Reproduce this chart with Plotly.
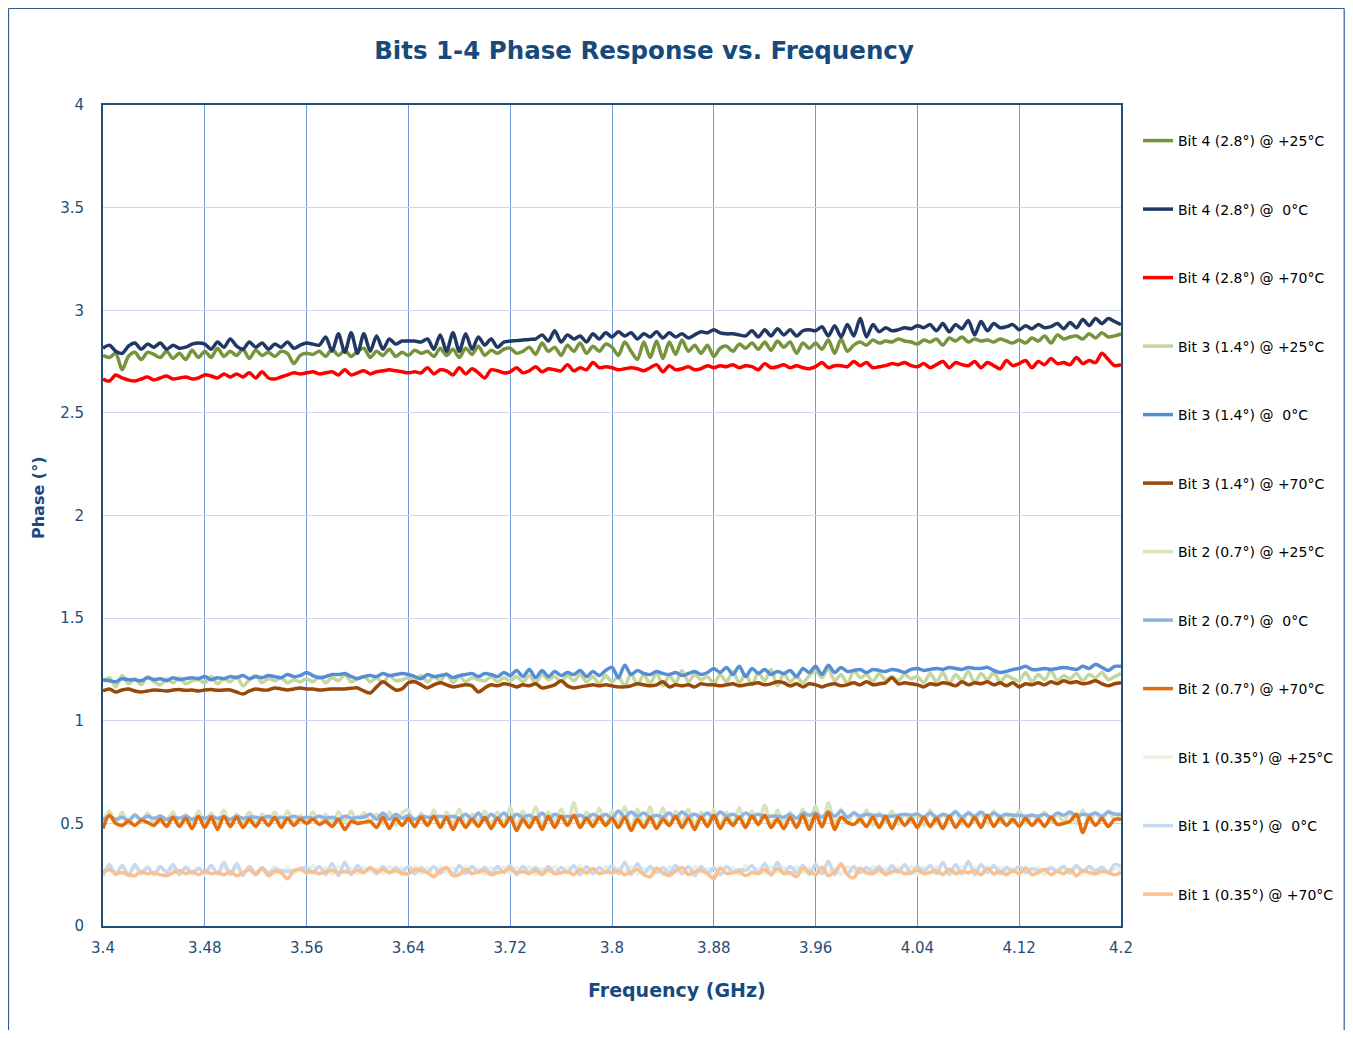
import numpy as np
import plotly.graph_objects as go

# ---------------- data (phase in degrees, 3.4 - 4.2 GHz sweep) ----------------
f_start, f_stop = 3.4, 4.2

bit4_25 = [
    2.78, 2.77, 2.79, 2.71, 2.775, 2.795, 2.76, 2.795, 2.785, 2.77, 2.80, 2.765, 2.79, 2.76, 2.805, 2.77,
    2.80, 2.77, 2.815, 2.775, 2.80, 2.78, 2.81, 2.765, 2.805, 2.78, 2.795, 2.775, 2.80, 2.79, 2.74, 2.78,
    2.79, 2.785, 2.80, 2.775, 2.81, 2.78, 2.805, 2.775, 2.80, 2.815, 2.77, 2.80, 2.78, 2.81, 2.775, 2.795,
    2.78, 2.805, 2.79, 2.80, 2.775, 2.815, 2.78, 2.81, 2.77, 2.815, 2.785, 2.825, 2.78, 2.805, 2.79, 2.81,
    2.815, 2.79, 2.80, 2.82, 2.785, 2.84, 2.80, 2.82, 2.78, 2.83, 2.80, 2.84, 2.79, 2.825, 2.80, 2.835,
    2.82, 2.78, 2.845, 2.80, 2.76, 2.845, 2.77, 2.85, 2.765, 2.845, 2.785, 2.855, 2.80, 2.83, 2.79, 2.83,
    2.775, 2.815, 2.825, 2.80, 2.835, 2.815, 2.84, 2.81, 2.845, 2.805, 2.85, 2.82, 2.845, 2.79, 2.84, 2.815,
    2.84, 2.81, 2.855, 2.79, 2.86, 2.80, 2.83, 2.845, 2.83, 2.855, 2.84, 2.85, 2.845, 2.86, 2.85, 2.845,
    2.835, 2.855, 2.845, 2.86, 2.83, 2.865, 2.85, 2.87, 2.845, 2.86, 2.85, 2.855, 2.845, 2.86, 2.85, 2.84,
    2.855, 2.84, 2.865, 2.85, 2.875, 2.84, 2.88, 2.86, 2.87, 2.875, 2.86, 2.885, 2.865, 2.89, 2.87, 2.875,
    2.885]

bit4_0 = [
    2.815, 2.83, 2.80, 2.79, 2.825, 2.84, 2.81, 2.835, 2.82, 2.84, 2.81, 2.83, 2.815, 2.82, 2.835, 2.84,
    2.835, 2.81, 2.845, 2.82, 2.86, 2.825, 2.81, 2.845, 2.82, 2.84, 2.81, 2.835, 2.82, 2.845, 2.815, 2.83,
    2.84, 2.835, 2.83, 2.87, 2.80, 2.885, 2.795, 2.89, 2.79, 2.885, 2.80, 2.875, 2.81, 2.86, 2.835, 2.85,
    2.85, 2.85, 2.845, 2.86, 2.81, 2.88, 2.80, 2.89, 2.80, 2.885, 2.81, 2.87, 2.83, 2.86, 2.82, 2.845,
    2.85, 2.852, 2.855, 2.858, 2.86, 2.88, 2.85, 2.90, 2.845, 2.88, 2.86, 2.875, 2.845, 2.885, 2.86, 2.89,
    2.87, 2.895, 2.875, 2.89, 2.86, 2.885, 2.87, 2.895, 2.865, 2.89, 2.87, 2.885, 2.865, 2.88, 2.895, 2.89,
    2.905, 2.89, 2.885, 2.885, 2.88, 2.875, 2.90, 2.87, 2.905, 2.875, 2.91, 2.88, 2.905, 2.875, 2.90, 2.905,
    2.90, 2.92, 2.875, 2.925, 2.87, 2.93, 2.875, 2.96, 2.87, 2.93, 2.895, 2.915, 2.90, 2.905, 2.915, 2.91,
    2.925, 2.915, 2.93, 2.90, 2.935, 2.895, 2.93, 2.91, 2.95, 2.88, 2.945, 2.90, 2.935, 2.915, 2.92, 2.93,
    2.905, 2.925, 2.91, 2.93, 2.915, 2.92, 2.935, 2.91, 2.94, 2.915, 2.955, 2.925, 2.96, 2.935, 2.96, 2.945,
    2.93]

bit4_70 = [
    2.665, 2.655, 2.685, 2.67, 2.66, 2.655, 2.665, 2.675, 2.66, 2.67, 2.68, 2.665, 2.67, 2.675, 2.665, 2.67,
    2.685, 2.68, 2.67, 2.69, 2.675, 2.69, 2.675, 2.695, 2.67, 2.70, 2.67, 2.665, 2.675, 2.685, 2.695, 2.69,
    2.695, 2.70, 2.69, 2.695, 2.70, 2.685, 2.71, 2.685, 2.695, 2.705, 2.69, 2.70, 2.705, 2.71, 2.705, 2.70,
    2.695, 2.70, 2.695, 2.72, 2.69, 2.71, 2.705, 2.685, 2.72, 2.69, 2.715, 2.695, 2.67, 2.71, 2.705, 2.695,
    2.70, 2.72, 2.695, 2.705, 2.725, 2.70, 2.715, 2.71, 2.705, 2.735, 2.705, 2.72, 2.71, 2.745, 2.72, 2.725,
    2.72, 2.71, 2.715, 2.72, 2.715, 2.705, 2.72, 2.735, 2.70, 2.73, 2.71, 2.715, 2.725, 2.71, 2.715, 2.73,
    2.72, 2.73, 2.725, 2.735, 2.72, 2.73, 2.725, 2.71, 2.74, 2.72, 2.725, 2.735, 2.72, 2.73, 2.72, 2.715,
    2.725, 2.745, 2.72, 2.73, 2.73, 2.725, 2.75, 2.73, 2.745, 2.72, 2.725, 2.73, 2.74, 2.735, 2.745, 2.73,
    2.725, 2.74, 2.72, 2.735, 2.75, 2.72, 2.745, 2.735, 2.73, 2.75, 2.72, 2.745, 2.73, 2.715, 2.755, 2.73,
    2.74, 2.755, 2.72, 2.75, 2.735, 2.765, 2.74, 2.745, 2.735, 2.77, 2.74, 2.755, 2.745, 2.79, 2.76, 2.73,
    2.735]

bit3_25 = [
    1.19, 1.21, 1.165, 1.22, 1.18, 1.205, 1.175, 1.215, 1.19, 1.175, 1.205, 1.185, 1.21, 1.18, 1.195, 1.20,
    1.185, 1.215, 1.18, 1.205, 1.19, 1.215, 1.17, 1.20, 1.22, 1.185, 1.205, 1.195, 1.21, 1.185, 1.20, 1.19,
    1.205, 1.19, 1.215, 1.185, 1.21, 1.195, 1.225, 1.19, 1.205, 1.215, 1.19, 1.21, 1.185, 1.22, 1.195, 1.20,
    1.21, 1.195, 1.22, 1.19, 1.215, 1.195, 1.23, 1.185, 1.215, 1.19, 1.21, 1.20, 1.195, 1.215, 1.19, 1.21,
    1.195, 1.215, 1.19, 1.22, 1.185, 1.225, 1.20, 1.215, 1.19, 1.22, 1.195, 1.225, 1.19, 1.215, 1.18, 1.22,
    1.19, 1.215, 1.17, 1.23, 1.175, 1.225, 1.18, 1.235, 1.17, 1.22, 1.185, 1.245, 1.19, 1.225, 1.20, 1.215,
    1.18, 1.225, 1.19, 1.24, 1.185, 1.225, 1.175, 1.235, 1.195, 1.25, 1.17, 1.23, 1.19, 1.215, 1.185, 1.22,
    1.24, 1.21, 1.255, 1.195, 1.225, 1.18, 1.245, 1.21, 1.225, 1.19, 1.23, 1.20, 1.215, 1.195, 1.225, 1.205,
    1.215, 1.185, 1.23, 1.19, 1.235, 1.18, 1.225, 1.195, 1.24, 1.185, 1.23, 1.20, 1.235, 1.19, 1.22, 1.205,
    1.195, 1.235, 1.19, 1.225, 1.20, 1.245, 1.195, 1.22, 1.205, 1.23, 1.195, 1.225, 1.21, 1.235, 1.20, 1.215,
    1.23]

bit3_0 = [
    1.20, 1.195, 1.19, 1.205, 1.20, 1.20, 1.195, 1.21, 1.20, 1.205, 1.195, 1.21, 1.20, 1.205, 1.21, 1.205,
    1.215, 1.20, 1.21, 1.205, 1.215, 1.21, 1.22, 1.205, 1.215, 1.21, 1.22, 1.215, 1.21, 1.225, 1.215, 1.22,
    1.235, 1.22, 1.21, 1.215, 1.225, 1.225, 1.23, 1.215, 1.205, 1.215, 1.22, 1.215, 1.23, 1.22, 1.225, 1.23,
    1.225, 1.215, 1.205, 1.225, 1.215, 1.22, 1.225, 1.21, 1.22, 1.225, 1.23, 1.215, 1.23, 1.225, 1.215, 1.235,
    1.22, 1.245, 1.215, 1.25, 1.21, 1.245, 1.215, 1.24, 1.22, 1.235, 1.225, 1.245, 1.215, 1.24, 1.22, 1.245,
    1.26, 1.21, 1.27, 1.225, 1.245, 1.23, 1.225, 1.24, 1.23, 1.225, 1.235, 1.22, 1.23, 1.24, 1.225, 1.235,
    1.255, 1.235, 1.26, 1.225, 1.265, 1.215, 1.255, 1.23, 1.25, 1.225, 1.24, 1.23, 1.245, 1.215, 1.255, 1.235,
    1.265, 1.225, 1.27, 1.235, 1.26, 1.24, 1.245, 1.25, 1.235, 1.25, 1.245, 1.24, 1.25, 1.245, 1.235, 1.25,
    1.255, 1.245, 1.25, 1.255, 1.25, 1.26, 1.255, 1.25, 1.26, 1.255, 1.255, 1.26, 1.245, 1.235, 1.24, 1.25,
    1.255, 1.265, 1.25, 1.25, 1.255, 1.25, 1.255, 1.26, 1.255, 1.25, 1.265, 1.255, 1.275, 1.26, 1.245, 1.265,
    1.265]

bit3_70 = [
    1.145, 1.155, 1.14, 1.15, 1.155, 1.145, 1.14, 1.145, 1.15, 1.148, 1.145, 1.15, 1.152, 1.148, 1.15, 1.145,
    1.15, 1.152, 1.148, 1.15, 1.15, 1.14, 1.13, 1.145, 1.155, 1.15, 1.15, 1.16, 1.155, 1.15, 1.155, 1.16,
    1.155, 1.155, 1.15, 1.152, 1.155, 1.155, 1.155, 1.158, 1.16, 1.145, 1.135, 1.165, 1.19, 1.17, 1.15, 1.155,
    1.185, 1.19, 1.175, 1.16, 1.175, 1.185, 1.175, 1.165, 1.17, 1.175, 1.17, 1.14, 1.16, 1.175, 1.17, 1.18,
    1.175, 1.165, 1.175, 1.17, 1.18, 1.16, 1.165, 1.175, 1.195, 1.17, 1.16, 1.165, 1.17, 1.175, 1.17, 1.175,
    1.17, 1.165, 1.165, 1.17, 1.18, 1.175, 1.17, 1.175, 1.19, 1.165, 1.175, 1.17, 1.175, 1.165, 1.18, 1.175,
    1.175, 1.17, 1.175, 1.18, 1.17, 1.175, 1.18, 1.185, 1.175, 1.18, 1.19, 1.185, 1.17, 1.18, 1.165, 1.18,
    1.175, 1.165, 1.175, 1.18, 1.17, 1.175, 1.185, 1.175, 1.19, 1.175, 1.18, 1.185, 1.21, 1.18, 1.185, 1.18,
    1.175, 1.165, 1.18, 1.175, 1.185, 1.18, 1.17, 1.19, 1.175, 1.185, 1.18, 1.19, 1.175, 1.185, 1.17, 1.185,
    1.165, 1.18, 1.175, 1.185, 1.175, 1.19, 1.18, 1.195, 1.185, 1.19, 1.18, 1.185, 1.195, 1.18, 1.17, 1.18,
    1.185]

bit2_25 = [
    0.51, 0.56, 0.50, 0.555, 0.495, 0.545, 0.51, 0.55, 0.50, 0.54, 0.515, 0.555, 0.49, 0.545, 0.505, 0.56,
    0.495, 0.55, 0.50, 0.565, 0.49, 0.545, 0.51, 0.555, 0.50, 0.545, 0.515, 0.555, 0.495, 0.56, 0.505, 0.54,
    0.51, 0.555, 0.495, 0.545, 0.50, 0.555, 0.51, 0.56, 0.495, 0.55, 0.505, 0.545, 0.50, 0.555, 0.49, 0.55,
    0.565, 0.48, 0.55, 0.495, 0.565, 0.485, 0.555, 0.50, 0.57, 0.49, 0.545, 0.51, 0.56, 0.49, 0.555, 0.50,
    0.575, 0.485, 0.56, 0.50, 0.58, 0.49, 0.555, 0.505, 0.57, 0.495, 0.60, 0.48, 0.555, 0.505, 0.575, 0.49,
    0.56, 0.50, 0.58, 0.47, 0.57, 0.49, 0.58, 0.475, 0.575, 0.49, 0.56, 0.50, 0.57, 0.49, 0.555, 0.50,
    0.565, 0.485, 0.555, 0.50, 0.575, 0.48, 0.56, 0.495, 0.59, 0.485, 0.565, 0.50, 0.555, 0.48, 0.57, 0.495,
    0.585, 0.48, 0.60, 0.495, 0.57, 0.50, 0.555, 0.505, 0.565, 0.49, 0.55, 0.51, 0.56, 0.495, 0.545, 0.51,
    0.55, 0.49, 0.565, 0.50, 0.545, 0.515, 0.56, 0.495, 0.555, 0.51, 0.55, 0.50, 0.56, 0.51, 0.545, 0.505,
    0.56, 0.50, 0.545, 0.515, 0.555, 0.505, 0.545, 0.51, 0.555, 0.50, 0.565, 0.51, 0.55, 0.515, 0.56, 0.52,
    0.545]

bit2_0 = [
    0.515, 0.535, 0.52, 0.53, 0.515, 0.54, 0.52, 0.535, 0.525, 0.535, 0.52, 0.53, 0.525, 0.535, 0.52, 0.53,
    0.525, 0.535, 0.525, 0.53, 0.52, 0.535, 0.525, 0.53, 0.53, 0.525, 0.535, 0.52, 0.53, 0.525, 0.535, 0.525,
    0.53, 0.525, 0.535, 0.525, 0.53, 0.52, 0.535, 0.525, 0.53, 0.53, 0.545, 0.52, 0.55, 0.52, 0.545, 0.525,
    0.54, 0.52, 0.535, 0.53, 0.53, 0.535, 0.53, 0.535, 0.525, 0.545, 0.52, 0.55, 0.515, 0.545, 0.525, 0.55,
    0.52, 0.545, 0.53, 0.54, 0.52, 0.55, 0.52, 0.545, 0.53, 0.535, 0.53, 0.54, 0.525, 0.545, 0.53, 0.545,
    0.525, 0.56, 0.53, 0.555, 0.535, 0.55, 0.53, 0.54, 0.53, 0.55, 0.525, 0.555, 0.535, 0.545, 0.53, 0.55,
    0.525, 0.555, 0.535, 0.545, 0.53, 0.55, 0.535, 0.545, 0.53, 0.535, 0.535, 0.53, 0.545, 0.525, 0.55, 0.54,
    0.55, 0.53, 0.555, 0.535, 0.56, 0.53, 0.55, 0.535, 0.545, 0.54, 0.54, 0.535, 0.535, 0.54, 0.545, 0.54,
    0.545, 0.53, 0.55, 0.53, 0.545, 0.535, 0.555, 0.53, 0.55, 0.535, 0.555, 0.53, 0.55, 0.535, 0.545, 0.54,
    0.54, 0.535, 0.54, 0.535, 0.545, 0.53, 0.55, 0.54, 0.555, 0.535, 0.545, 0.54, 0.55, 0.535, 0.555, 0.545,
    0.545]

bit2_70 = [
    0.475, 0.54, 0.50, 0.49, 0.51, 0.49, 0.515, 0.505, 0.49, 0.52, 0.485, 0.53, 0.485, 0.525, 0.475, 0.535,
    0.48, 0.53, 0.47, 0.535, 0.485, 0.53, 0.48, 0.52, 0.485, 0.525, 0.49, 0.53, 0.48, 0.525, 0.49, 0.52,
    0.50, 0.52, 0.495, 0.51, 0.485, 0.52, 0.47, 0.51, 0.50, 0.505, 0.51, 0.48, 0.53, 0.475, 0.525, 0.49,
    0.525, 0.485, 0.53, 0.49, 0.535, 0.48, 0.53, 0.47, 0.525, 0.48, 0.52, 0.485, 0.53, 0.475, 0.525, 0.485,
    0.53, 0.465, 0.52, 0.48, 0.53, 0.47, 0.535, 0.48, 0.535, 0.49, 0.54, 0.48, 0.525, 0.485, 0.53, 0.49,
    0.525, 0.48, 0.53, 0.465, 0.52, 0.48, 0.53, 0.475, 0.52, 0.49, 0.535, 0.48, 0.525, 0.47, 0.53, 0.485,
    0.54, 0.475, 0.525, 0.49, 0.53, 0.48, 0.535, 0.495, 0.54, 0.48, 0.52, 0.475, 0.53, 0.48, 0.54, 0.47,
    0.545, 0.485, 0.555, 0.47, 0.53, 0.505, 0.495, 0.52, 0.485, 0.53, 0.48, 0.535, 0.475, 0.53, 0.49, 0.525,
    0.48, 0.53, 0.485, 0.525, 0.475, 0.535, 0.48, 0.52, 0.485, 0.53, 0.48, 0.54, 0.485, 0.525, 0.49, 0.52,
    0.485, 0.525, 0.49, 0.52, 0.485, 0.53, 0.495, 0.50, 0.51, 0.545, 0.455, 0.53, 0.49, 0.525, 0.485, 0.52,
    0.52]

bit1_25 = [
    0.255, 0.29, 0.25, 0.295, 0.255, 0.285, 0.26, 0.29, 0.25, 0.285, 0.265, 0.28, 0.255, 0.29, 0.26, 0.285,
    0.25, 0.29, 0.255, 0.285, 0.26, 0.28, 0.255, 0.29, 0.26, 0.285, 0.25, 0.29, 0.265, 0.285, 0.255, 0.28,
    0.26, 0.295, 0.255, 0.285, 0.25, 0.29, 0.26, 0.28, 0.255, 0.285, 0.265, 0.28, 0.255, 0.29, 0.26, 0.285,
    0.25, 0.295, 0.255, 0.285, 0.245, 0.29, 0.26, 0.285, 0.255, 0.29, 0.26, 0.28, 0.25, 0.285, 0.26, 0.29,
    0.255, 0.285, 0.26, 0.29, 0.25, 0.28, 0.265, 0.29, 0.255, 0.285, 0.26, 0.295, 0.25, 0.28, 0.26, 0.29,
    0.255, 0.285, 0.26, 0.29, 0.255, 0.28, 0.265, 0.285, 0.25, 0.29, 0.26, 0.285, 0.255, 0.29, 0.26, 0.28,
    0.255, 0.29, 0.26, 0.285, 0.25, 0.295, 0.26, 0.28, 0.255, 0.29, 0.265, 0.285, 0.25, 0.29, 0.26, 0.285,
    0.255, 0.29, 0.26, 0.28, 0.25, 0.29, 0.265, 0.285, 0.255, 0.29, 0.26, 0.28, 0.255, 0.285, 0.26, 0.29,
    0.25, 0.285, 0.26, 0.29, 0.255, 0.28, 0.265, 0.29, 0.255, 0.285, 0.26, 0.29, 0.25, 0.285, 0.265, 0.28,
    0.255, 0.29, 0.26, 0.285, 0.25, 0.29, 0.265, 0.28, 0.255, 0.29, 0.26, 0.285, 0.255, 0.29, 0.26, 0.28,
    0.27]

bit1_0 = [
    0.245, 0.30, 0.25, 0.295, 0.245, 0.30, 0.255, 0.285, 0.25, 0.29, 0.26, 0.30, 0.25, 0.285, 0.255, 0.28,
    0.26, 0.295, 0.255, 0.31, 0.25, 0.305, 0.245, 0.29, 0.255, 0.285, 0.26, 0.275, 0.27, 0.265, 0.27, 0.28,
    0.285, 0.26, 0.29, 0.25, 0.305, 0.245, 0.31, 0.25, 0.295, 0.26, 0.285, 0.255, 0.29, 0.26, 0.285, 0.265,
    0.29, 0.255, 0.285, 0.26, 0.29, 0.255, 0.285, 0.25, 0.295, 0.255, 0.29, 0.26, 0.285, 0.255, 0.29, 0.26,
    0.295, 0.25, 0.29, 0.26, 0.285, 0.255, 0.29, 0.255, 0.285, 0.26, 0.295, 0.25, 0.29, 0.255, 0.285, 0.26,
    0.295, 0.255, 0.31, 0.25, 0.305, 0.255, 0.29, 0.26, 0.285, 0.26, 0.295, 0.255, 0.29, 0.245, 0.29, 0.255,
    0.285, 0.25, 0.29, 0.26, 0.275, 0.27, 0.295, 0.255, 0.305, 0.25, 0.31, 0.255, 0.29, 0.26, 0.295, 0.25,
    0.30, 0.255, 0.315, 0.25, 0.305, 0.255, 0.29, 0.26, 0.285, 0.265, 0.29, 0.255, 0.295, 0.26, 0.30, 0.255,
    0.29, 0.265, 0.295, 0.255, 0.31, 0.25, 0.30, 0.255, 0.315, 0.25, 0.30, 0.26, 0.295, 0.255, 0.285, 0.265,
    0.29, 0.26, 0.28, 0.27, 0.275, 0.28, 0.27, 0.29, 0.26, 0.295, 0.265, 0.29, 0.27, 0.285, 0.26, 0.30,
    0.29]

bit1_70 = [
    0.26, 0.275, 0.255, 0.26, 0.25, 0.245, 0.265, 0.255, 0.26, 0.25, 0.245, 0.26, 0.27, 0.255, 0.265, 0.25,
    0.265, 0.255, 0.26, 0.25, 0.265, 0.245, 0.26, 0.275, 0.25, 0.28, 0.245, 0.265, 0.26, 0.23, 0.27, 0.275,
    0.26, 0.265, 0.255, 0.265, 0.27, 0.26, 0.265, 0.26, 0.27, 0.26, 0.285, 0.265, 0.275, 0.26, 0.27, 0.255,
    0.255, 0.275, 0.27, 0.26, 0.24, 0.27, 0.285, 0.245, 0.25, 0.275, 0.255, 0.265, 0.27, 0.25, 0.26, 0.265,
    0.28, 0.26, 0.265, 0.255, 0.27, 0.25, 0.275, 0.255, 0.26, 0.265, 0.25, 0.275, 0.26, 0.28, 0.255, 0.265,
    0.26, 0.27, 0.25, 0.265, 0.275, 0.25, 0.24, 0.28, 0.26, 0.245, 0.27, 0.285, 0.25, 0.265, 0.27, 0.255,
    0.23, 0.28, 0.255, 0.26, 0.265, 0.245, 0.26, 0.255, 0.275, 0.25, 0.28, 0.255, 0.26, 0.24, 0.28, 0.265,
    0.25, 0.285, 0.245, 0.265, 0.30, 0.25, 0.235, 0.28, 0.26, 0.255, 0.275, 0.25, 0.265, 0.27, 0.255, 0.26,
    0.275, 0.255, 0.26, 0.27, 0.25, 0.275, 0.255, 0.265, 0.26, 0.27, 0.25, 0.28, 0.255, 0.265, 0.25, 0.27,
    0.255, 0.28, 0.25, 0.26, 0.275, 0.25, 0.265, 0.255, 0.275, 0.245, 0.27, 0.26, 0.255, 0.265, 0.26, 0.25,
    0.26]

series_names = [
    "Bit 4 (2.8°) @ +25°C", "Bit 4 (2.8°) @  0°C", "Bit 4 (2.8°) @ +70°C",
    "Bit 3 (1.4°) @ +25°C", "Bit 3 (1.4°) @  0°C", "Bit 3 (1.4°) @ +70°C",
    "Bit 2 (0.7°) @ +25°C", "Bit 2 (0.7°) @  0°C", "Bit 2 (0.7°) @ +70°C",
    "Bit 1 (0.35°) @ +25°C", "Bit 1 (0.35°) @  0°C", "Bit 1 (0.35°) @ +70°C",
]
series_values = [bit4_25, bit4_0, bit4_70, bit3_25, bit3_0, bit3_70,
                 bit2_25, bit2_0, bit2_70, bit1_25, bit1_0, bit1_70]
series_colors = ["#77933C", "#1F3864", "#FF0000",
                 "#C3D69B", "#558ED5", "#984807",
                 "#D7E4BD", "#8DB3E2", "#E46C0A",
                 "#EBF1DE", "#C6D9F1", "#FAC090"]

x_ticks = [3.4, 3.48, 3.56, 3.64, 3.72, 3.8, 3.88, 3.96, 4.04, 4.12, 4.2]
x_tick_labels = ["3.4", "3.48", "3.56", "3.64", "3.72", "3.8", "3.88", "3.96", "4.04", "4.12", "4.2"]
y_ticks = [0, 0.5, 1, 1.5, 2, 2.5, 3, 3.5, 4]
y_tick_labels = ["0", "0.5", "1", "1.5", "2", "2.5", "3", "3.5", "4"]

# ---------------- figure ----------------
OFF = 8                      # page body margin around the plot div
W, H = 1353 - 2 * OFF, 1038 - 2 * OFF
L, R, T, B = 103 - OFF, 1121 - OFF, 105 - OFF, 926 - OFF
axis_blue = "#1F4E79"
font_fam = "DejaVu Sans, Verdana, sans-serif"

fig = go.Figure()
for i, (name, vals, col) in enumerate(zip(series_names, series_values, series_colors)):
    xs = np.linspace(f_start, f_stop, len(vals))
    fig.add_trace(go.Scatter(
        x=xs, y=vals, name=name, mode="lines",
        line=dict(color=col, width=3.5, shape="spline", smoothing=0.8),
        legendgroup=f"g{i}",
    ))

pw, ph = R - L, B - T
def px_x(p):          # page pixel -> paper x
    return (p - OFF - L) / pw
def px_y(p):          # page pixel -> paper y
    return (B - (p - OFF)) / ph

fig.update_layout(
    width=W, height=H,
    margin=dict(l=L, r=W - R, t=T, b=H - B, pad=0, autoexpand=False),
    paper_bgcolor="white", plot_bgcolor="white",
    font=dict(family=font_fam, color=axis_blue, size=15),
    showlegend=True,
    legend=dict(
        x=px_x(1138), xanchor="left", y=px_y(125), yanchor="top",
        traceorder="grouped", tracegroupgap=47.3,
        font=dict(family=font_fam, size=14, color="#000000"),
        bgcolor="rgba(0,0,0,0)",
    ),
    xaxis=dict(
        range=[f_start, f_stop], tickmode="array", tickvals=x_ticks, ticktext=x_tick_labels,
        showgrid=True, gridcolor="#6F9BDB", gridwidth=1.2,
        showline=True, linecolor=axis_blue, linewidth=2, mirror=True,
        ticks="outside", ticklen=7, tickcolor="rgba(0,0,0,0)", zeroline=False,
        tickfont=dict(family=font_fam, size=15, color=axis_blue),
    ),
    yaxis=dict(
        range=[0, 4], tickmode="array", tickvals=y_ticks, ticktext=y_tick_labels,
        showgrid=True, gridcolor="#D2D2F7", gridwidth=1,
        showline=True, linecolor=axis_blue, linewidth=2, mirror=True,
        ticks="outside", ticklen=14, tickcolor="rgba(0,0,0,0)", zeroline=False,
        tickfont=dict(family=font_fam, size=15, color=axis_blue),
    ),
    title=dict(
        text="<b>Bits 1-4 Phase Response vs. Frequency</b>",
        x=(644 - OFF) / W, xanchor="center", xref="container",
        y=1 - (50 - OFF) / H, yanchor="middle", yref="container",
        font=dict(family=font_fam, size=24.5, color="#174A7C"),
    ),
)

fig.add_annotation(text="<b>Frequency (GHz)</b>", xref="paper", yref="paper",
                   x=px_x(677), y=px_y(990), showarrow=False, xanchor="center", yanchor="middle",
                   font=dict(family=font_fam, size=19, color="#174A7C"))
fig.add_annotation(text="<b>Phase (°)</b>", xref="paper", yref="paper", textangle=-90,
                   x=px_x(38), y=px_y(498), showarrow=False, xanchor="center", yanchor="middle",
                   font=dict(family=font_fam, size=16, color="#174A7C"))

# outer chart frame (left, top, right edges)
frame_col = "#2E5F8E"
fx0, fx1 = px_x(8.5), (W - 0.8 - L) / pw
fy_top, fy_bot = px_y(8.5), (B - H) / ph
for (xa, ya, xb, yb) in [(fx0, fy_bot, fx0, fy_top), (fx0, fy_top, fx1, fy_top), (fx1, fy_top, fx1, fy_bot)]:
    fig.add_shape(type="line", xref="paper", yref="paper", x0=xa, y0=ya, x1=xb, y1=yb,
                  line=dict(color=frame_col, width=1.2), layer="below")

fig.write_html("out.html")
